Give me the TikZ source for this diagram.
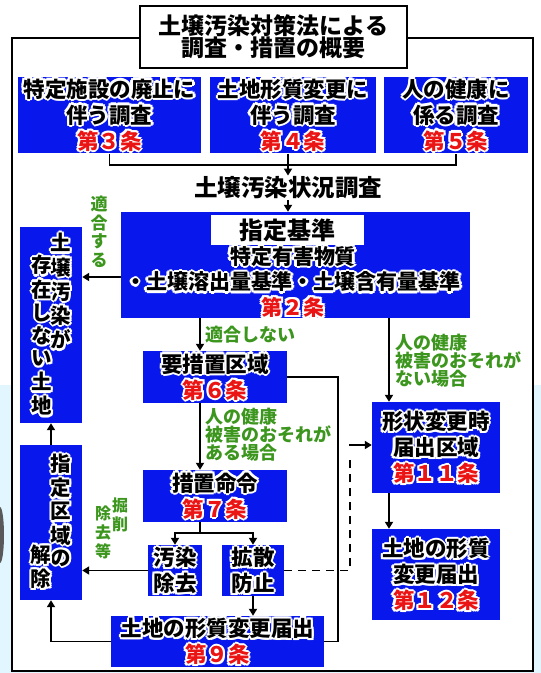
\documentclass[tikz,border=0pt]{standalone}
\usepackage{fontspec}
\newfontfamily\jp{Noto Sans CJK JP}
\usetikzlibrary{positioning,arrows.meta}
\definecolor{jblue}{RGB}{8,24,236}
\definecolor{jred}{RGB}{235,20,20}
\definecolor{jgreen}{RGB}{60,150,30}
\definecolor{bgcyan}{RGB}{226,246,255}

% white halo round text
\newcommand\hcopy[3]{\rlap{\kern#1\raisebox{#2}{#3}}}
\newcommand\halo[1]{{\color{white}%
  \hcopy{2.2pt}{0pt}{#1}\hcopy{-2.2pt}{0pt}{#1}\hcopy{0pt}{2.2pt}{#1}\hcopy{0pt}{-2.2pt}{#1}%
  \hcopy{1.6pt}{1.6pt}{#1}\hcopy{-1.6pt}{1.6pt}{#1}\hcopy{1.6pt}{-1.6pt}{#1}\hcopy{-1.6pt}{-1.6pt}{#1}}#1}
\newcommand\wt[1]{\halo{#1}}
\newcommand\jo[1]{{\color{jred}\halo{#1}}}
\newcommand\tate[1]{\halo{\begin{tabular}{@{}c@{}}#1\end{tabular}}}

\tikzset{
  box/.style={fill=jblue, inner sep=0pt, align=center, font=\jp\bfseries\fontsize{21.5}{22}\selectfont},
  col/.style={inner sep=0pt, font=\jp\bfseries\fontsize{20.5}{22}\selectfont},
  lbl/.style={text=jgreen, inner sep=0pt, align=left, font=\jp\bfseries\fontsize{18}{18}\selectfont},
  ln/.style={line width=1.8pt},
  arr/.style={ln, -{Triangle[length=7pt,width=8pt]}},
}

\begin{document}
\begin{tikzpicture}[x=1pt,y=-1pt]
  \useasboundingbox (0,0) rectangle (541,673);
  \fill[white] (0,0) rectangle (541,673);
  \fill[bgcyan] (0,385) rectangle (541,673);
  \fill[black!65] (0,535) ellipse (4 and 28);
  \draw[line width=1.2pt, fill=white] (12,38) rectangle (533,671);

  \node[draw, fill=white, line width=1.2pt, minimum width=267pt, minimum height=62pt, align=center,
        font=\jp\bfseries\fontsize{23}{22}\selectfont] at (273.5,37) (title) {土壌汚染対策法による\\調査・措置の概要};

  % investigations
  \node[box, minimum width=183pt, minimum height=76pt] at (109.5,115) (s3) {\wt{特定施設の廃止に}\\\wt{伴う調査}\\\jo{第３条}};
  \node[box, minimum width=166pt, minimum height=76pt] at (293,115) (s4) {\wt{土地形質変更に}\\\wt{伴う調査}\\\jo{第４条}};
  \node[box, minimum width=144pt, minimum height=76pt] at (456,115) (s5) {\wt{人の健康に}\\\wt{係る調査}\\\jo{第５条}};
  \node[inner sep=1pt, font=\jp\bfseries\fontsize{23.5}{24}\selectfont] at (288,188) (jokyo) {土壌汚染状況調査};

  % standards
  \node[box, minimum width=349pt, minimum height=106pt] at (295.5,265) (kijun) {};
  \node[fill=white, inner sep=0pt, minimum width=153pt, minimum height=30pt,
        font=\jp\bfseries\fontsize{24}{24}\selectfont] at (287.5,230) (shitei) {指定基準};
  \node[box, fill=none, font=\jp\bfseries\fontsize{21}{23.5}\selectfont] at (293,282) (yugai)
    {\wt{特定有害物質}\\\wt{・土壌溶出量基準・土壌含有量基準}\\\jo{第２条}};

  % left column
  \node[box, minimum width=62pt, minimum height=196pt] at (51,325) (nashi) {};
  \node[col] at (61,294) (nashiR) {\tate{土\\壌\\汚\\染\\が}};
  \node[col] at (42,338) (nashiL) {\tate{存\\在\\し\\な\\い\\土\\地}};
  \node[box, minimum width=62pt, minimum height=155pt] at (51,522.5) (kaijo) {};
  \node[col] at (61,513) (kaijoR) {\tate{指\\定\\区\\域\\の}};
  \node[col] at (41,569) (kaijoL) {\tate{解\\除}};

  % measures
  \node[box, minimum width=144pt, minimum height=52pt] at (215,377) (yosochi) {\wt{要措置区域}\\\jo{第６条}};
  \node[box, minimum width=144pt, minimum height=52pt] at (215,496) (meirei) {\wt{措置命令}\\\jo{第７条}};
  \node[box, minimum width=54pt, minimum height=51pt] at (175,570.5) (osen) {\wt{汚染}\\\wt{除去}};
  \node[box, minimum width=62pt, minimum height=51pt] at (253,570.5) (kakusan) {\wt{拡散}\\\wt{防止}};
  \node[box, minimum width=213pt, minimum height=51pt] at (217.5,641.5) (henko9) {\wt{土地の形質変更届出}\\\jo{第９条}};
  \node[box, minimum width=128pt, minimum height=91pt] at (436,447.5) (keijo) {\wt{形状変更時}\\\wt{届出区域}\\\jo{第１１条}};
  \node[box, minimum width=128pt, minimum height=91pt] at (436,574.5) (todoke) {\wt{土地の形質}\\\wt{変更届出}\\\jo{第１２条}};

  % green labels
  \node[lbl, align=center, font=\jp\bfseries\fontsize{17}{18.5}\selectfont] at (99,232) (tekigo) {適\\合\\す\\る};
  \node[lbl, anchor=west] at (205,335) (futeki) {適合しない};
  \node[lbl, anchor=west] at (205,435) (ari) {人の健康\\被害のおそれが\\ある場合};
  \node[lbl, anchor=west] at (395,361) (naibaai) {人の健康\\被害のおそれが\\ない場合};
  \node[lbl, align=center, font=\jp\bfseries\fontsize{16}{19}\selectfont] at (120,514.5) (kusR) {掘\\削};
  \node[lbl, align=center, font=\jp\bfseries\fontsize{16}{19}\selectfont] at (103,532) (kusL) {除\\去\\等};

  \coordinate (bj) at (288,165);
  \coordinate (ax) at (200,0);
  \coordinate (bm) at (200,533);
  \coordinate (rx) at (338,0);
  \coordinate (kx) at (389,0);
  \coordinate (dk) at (350,460);
  \coordinate (da) at (349,445);

  \draw[ln] (s3.south) |- (bj) -| (s5.south);
  \draw[arr] (s4.south -| bj) -- (bj |- jokyo.north);
  \draw[arr] (jokyo.south -| bj) -- (bj |- kijun.north);
  \draw[arr] ([yshift=-12pt]kijun.west) -- ([yshift=-12pt]kijun.west -| nashi.east);
  \draw[arr] (kijun.south -| ax) -- (yosochi.north -| ax);
  \draw[arr] (yosochi.south -| ax) -- (meirei.north -| ax);
  \draw[ln] (meirei.south -| bm) -- (bm);
  \draw[arr] (bm) -| (osen.north);
  \draw[arr] (bm) -| (kakusan.north);
  \draw[arr] (osen.west) -- (osen.west -| kaijo.east);
  \draw[arr] (kakusan.south) -- (kakusan.south |- henko9.north);
  \draw[ln] (yosochi.east) -| (rx |- henko9.east) -- (henko9.east);
  \draw[arr] (henko9.west) -| (kaijo.south);
  \draw[arr] (kaijo.north) -- (nashi.south);
  \draw[arr] (kijun.south -| kx) -- (keijo.north -| kx);
  \draw[arr] (keijo.south -| kx) -- (todoke.north -| kx);
  \draw[ln, dashed, dash pattern=on 8pt off 6pt] (kakusan.east) -| (dk);
  \draw[arr] (da) -- (da -| keijo.west);
\end{tikzpicture}
\end{document}
